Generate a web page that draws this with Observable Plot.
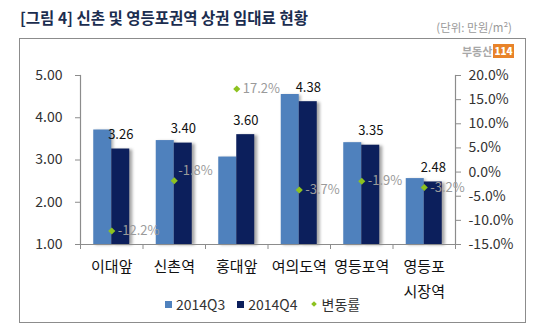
<!DOCTYPE html>
<html><head><meta charset="utf-8">
<script src="https://cdn.jsdelivr.net/npm/d3@7"></script>
<script src="https://cdn.jsdelivr.net/npm/@observablehq/plot@0.6"></script>
<style>
body{margin:0;background:#fff;font-family:"Noto Sans CJK KR","Noto Sans",sans-serif;}
#wrap{position:relative;width:540px;height:330px;overflow:hidden;}
#title{position:absolute;left:20px;top:6px;font-size:15.5px;font-weight:bold;color:#1b2d4f;}
#unit{position:absolute;right:28px;top:19px;font-size:11.5px;color:#9a9a9a;}
#box{position:absolute;left:19px;top:38px;width:507px;height:285px;border:1.5px solid #8c8c8c;box-sizing:border-box;}
#logo{position:absolute;left:462px;top:43px;font-size:11px;font-weight:bold;color:#a8a8a8;display:flex;align-items:center;gap:1px;}
#logo b{background:#e8832a;color:#fff;font-size:10px;padding:1px 1px;line-height:12px;}
#chart{position:absolute;left:0;top:0;}
#legend{position:absolute;left:165px;top:294px;font-size:14px;color:#333;display:flex;align-items:center;}
#legend span.sw{display:inline-block;width:7px;height:7px;margin-right:4px;}
#legend span.it{margin-right:12px;display:flex;align-items:center;}
#legend span.dm{display:inline-block;width:4px;height:4px;background:#8DC21F;transform:rotate(45deg);margin-right:6px;margin-left:2px;}
</style></head>
<body><div id="wrap">
<div id="title">[그림 4] 신촌 및 영등포권역 상권 임대료 현황</div>
<div id="unit">(단위: 만원/m²)</div>
<div id="box"></div>
<div id="logo">부동산<b>114</b></div>
<div id="chart"></div>
<div id="legend">
<span class="it"><span class="sw" style="background:#4F81BD"></span>2014Q3</span>
<span class="it"><span class="sw" style="background:#0c1f5c"></span>2014Q4</span>
<span class="it"><span class="dm"></span>변동률</span>
</div>
</div>
<script>
const categories = ["이대앞","신촌역","홍대앞","여의도역","영등포역","영등포시장역"];
const catLabels = ["이대앞","신촌역","홍대앞","여의도역","영등포역","영등포\n시장역"];
const q3 = [3.71, 3.46, 3.07, 4.55, 3.41, 2.56];
const q4 = [3.26, 3.40, 3.60, 4.38, 3.35, 2.48];
const change = [-12.2, -1.8, 17.2, -3.7, -1.9, -3.2];
const leftTicks = [1, 2, 3, 4, 5];
const rightTicks = [-15, -10, -5, 0, 5, 10, 15, 20];

const data = categories.map((c, i) => ({cat: c, q3: q3[i], q4: q4[i], chg: change[i]}));
const rMin = -15, rMax = 20, lMin = 1, lMax = 5;
const toLeft = v => lMin + (v - rMin) * (lMax - lMin) / (rMax - rMin);
const fromLeft = v => rMin + (v - lMin) * (rMax - rMin) / (lMax - lMin);
const labelMap = new Map(categories.map((c, i) => [c, catLabels[i]]));
const axisColor = "#8c8c8c";
const raised = d => d.cat === "신촌역";

const chart = Plot.plot({
  width: 540, height: 330,
  marginLeft: 80, marginRight: 85, marginTop: 75, marginBottom: 86,
  style: {background: "transparent", fontFamily: '"Noto Sans CJK KR","Noto Sans",sans-serif', color: "#333"},
  x: {domain: categories, padding: 0, round: false},
  y: {domain: [lMin, lMax]},
  marks: [
    Plot.barY(data, {x: "cat", y1: lMin, y2: "q3", fill: "#4F81BD", insetLeft: 13.25, insetRight: 31.25,
      imageFilter: "drop-shadow(2px 1px 1.5px rgba(0,0,0,0.3))"}),
    Plot.barY(data, {x: "cat", y1: lMin, y2: "q4", fill: "#0c1f5c", insetLeft: 31.25, insetRight: 13.25,
      imageFilter: "drop-shadow(3px 1px 1.5px rgba(0,0,0,0.35))"}),
    Plot.ruleY([lMin], {stroke: axisColor, strokeWidth: 1.2}),
    Plot.frame({anchor: "left", stroke: axisColor, strokeWidth: 1.2}),
    Plot.frame({anchor: "right", stroke: axisColor, strokeWidth: 1.2}),
    Plot.ruleX(categories, {x: d => d, dx: -31.25, y1: lMin, y2: lMin, insetBottom: -5, stroke: axisColor}),
    Plot.ruleX(categories.slice(-1), {x: d => d, dx: 31.25, y1: lMin, y2: lMin, insetBottom: -5, stroke: axisColor}),
    Plot.axisY({anchor: "left", ticks: leftTicks, tickFormat: d => d.toFixed(2), tickSize: 5, tickPadding: 13,
      fontSize: 14, stroke: axisColor, fill: "#333", label: null}),
    Plot.axisY({anchor: "right", ticks: rightTicks.map(toLeft), tickFormat: d => fromLeft(d).toFixed(1) + "%",
      tickSize: 5, tickPadding: 8, fontSize: 14, stroke: axisColor, fill: "#333", label: null}),
    Plot.axisX({anchor: "bottom", tickSize: 0, tickPadding: 10, fontSize: 15, lineHeight: 1.65,
      tickFormat: d => labelMap.get(d), fill: "#111", label: null}),
    Plot.text(data, {x: "cat", y: "q4", text: d => d.q4.toFixed(2), dx: 9, dy: -14, fontSize: 13, fill: "#111"}),
    Plot.dot(data, {x: "cat", y: d => toLeft(d.chg), symbol: "diamond2", r: 3.2, fill: "#8DC21F", stroke: "none"}),
    Plot.text(data.filter(d => !raised(d)), {x: "cat", y: d => toLeft(d.chg), text: d => d.chg.toFixed(1) + "%",
      dx: 6, textAnchor: "start", fontSize: 13, fill: "#9a9a9a"}),
    Plot.text(data.filter(raised), {x: "cat", y: d => toLeft(d.chg), text: d => d.chg.toFixed(1) + "%",
      dx: 4, dy: -10, textAnchor: "start", fontSize: 13, fill: "#9a9a9a"})
  ]
});
document.getElementById("chart").appendChild(chart);
</script>
</body></html>
